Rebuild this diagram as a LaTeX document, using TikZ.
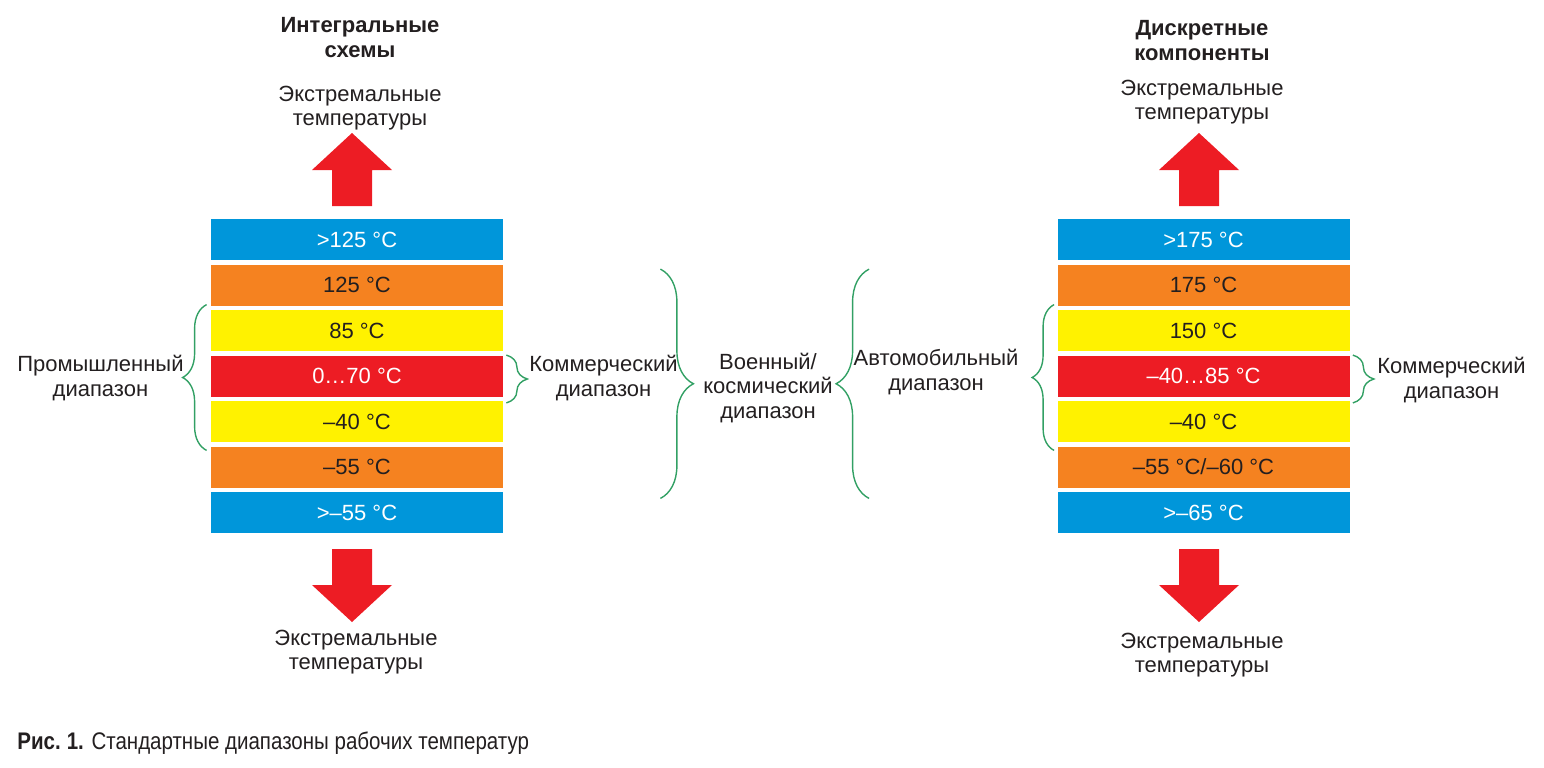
\documentclass[tikz,border=0pt]{standalone}
\usepackage{fontspec}
\setmainfont{Liberation Sans}
\newfontfamily\capfont[FakeStretch=0.855]{Liberation Sans}
\definecolor{band_blue}{RGB}{0, 150, 218}
\definecolor{band_orange}{RGB}{245, 130, 32}
\definecolor{band_yellow}{RGB}{255, 242, 0}
\definecolor{band_red}{RGB}{237, 28, 36}
\definecolor{brace_green}{RGB}{50, 160, 100}
\definecolor{ink}{RGB}{35, 31, 32}
\usetikzlibrary{decorations.pathreplacing, positioning}

\begin{document}
\begin{tikzpicture}[x=0.5pt, y=-0.5pt, text=ink,
    band/.style={minimum width=146pt, minimum height=20.5pt, inner sep=0pt,
      font=\fontsize{11}{13}\selectfont},
    lbl/.style={align=center, inner sep=0pt, font=\fontsize{11}{12.2}\selectfont},
    rangebrace/.style={decorate, decoration={brace, amplitude=#1},
      draw=brace_green, line width=0.7pt}]
  \useasboundingbox (0,0) rectangle (1544,767);

  % temperature bands, left: integrated circuits, right: discrete parts
  \foreach \r/\lt/\rt/\col/\tc in {0/{>125 °C}/{>175 °C}/band_blue/white,
      1/{125 °C}/{175 °C}/band_orange/ink,
      2/{85 °C}/{150 °C}/band_yellow/ink,
      3/{0…70 °C}/{–40…85 °C}/band_red/white,
      4/{–40 °C}/{–40 °C}/band_yellow/ink,
      5/{–55 °C}/{–55 °C/–60 °C}/band_orange/ink,
      6/{>–55 °C}/{>–65 °C}/band_blue/white} {
    \node[band, fill=\col, text=\tc] (L\r) at (357, {239.5+\r*45.5}) {\lt};
    \node[band, fill=\col, text=\tc] (R\r) at (1203.5, {239.5+\r*45.5}) {\rt};
  }

  % red block arrows
  \foreach \cx in {352, 1199} {
    \fill[band_red] ({\cx-20},206) -- ({\cx-20},170) -- ({\cx-40},170) -- (\cx,133)
      -- ({\cx+40},170) -- ({\cx+20},170) -- ({\cx+20},206) -- cycle;
    \fill[band_red] ({\cx-20},549) -- ({\cx-20},585) -- ({\cx-40},585) -- (\cx,622)
      -- ({\cx+40},585) -- ({\cx+20},585) -- ({\cx+20},549) -- cycle;
  }

  % titles and extreme labels
  \node[lbl, font=\fontsize{11}{12.6}\selectfont\bfseries] (ictitle) at (360, 37.5) {Интегральные\\схемы};
  \node[lbl, font=\fontsize{11}{12.6}\selectfont\bfseries] (dctitle) at (1202, 40.5) {Дискретные\\компоненты};
  \node[lbl] (ictop) at (360, 108) {Экстремальные\\температуры};
  \node[lbl] (dctop) at (1202, 102) {Экстремальные\\температуры};
  \node[lbl] (icbot) at (356, 652) {Экстремальные\\температуры};
  \node[lbl] (dcbot) at (1202, 655) {Экстремальные\\температуры};

  % range braces
  \draw[rangebrace=12pt] ([shift={(-4,8)}]L4.south west) -- ([shift={(-4,-5)}]L2.north west);
  \draw[rangebrace=10.5pt] ([shift={(3,0)}]L3.north east) -- ([shift={(3,6)}]L3.south east);
  \draw[rangebrace=16.5pt] ([shift={(157,5)}]L1.north east) -- ([shift={(157,10.5)}]L5.south east);
  \draw[rangebrace=16.5pt] ([shift={(-188,10.5)}]R5.south west) -- ([shift={(-188,5)}]R1.north west);
  \draw[rangebrace=11pt] ([shift={(-3,8)}]R4.south west) -- ([shift={(-3,-5)}]R2.north west);
  \draw[rangebrace=10.5pt] ([shift={(3,0)}]R3.north east) -- ([shift={(3,6)}]R3.south east);

  \node[lbl, anchor=east] (indlbl) at (184, 378) {Промышленный\\диапазон};
  \node[lbl, anchor=west] (comlbl) at (529, 378) {Коммерческий\\диапазон};
  \node[lbl] (millbl) at (768, 388) {Военный/\\космический\\диапазон};
  \node[lbl] (autlbl) at (936, 372) {Автомобильный\\диапазон};
  \node[lbl, anchor=west] (comlbl2) at (1377, 380) {Коммерческий\\диапазон};

  % caption
  \node[anchor=west, inner sep=0pt, font=\capfont\fontsize{12}{14}\selectfont] (caption) at (17, 743)
    {\textbf{Рис.\hspace{3pt}1.} Стандартные диапазоны рабочих температур};
\end{tikzpicture}
\end{document}
